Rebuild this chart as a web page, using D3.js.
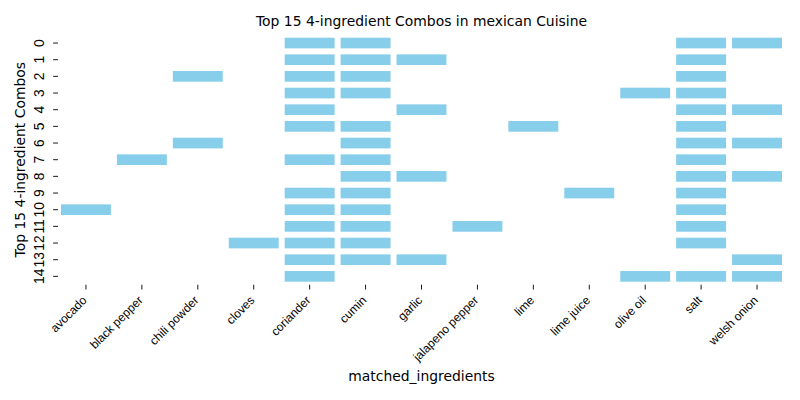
<!DOCTYPE html>
<html>
<head>
<meta charset="utf-8">
<script src="https://cdn.jsdelivr.net/npm/d3@7"></script>
<style>
  html, body { margin: 0; padding: 0; background: #fff; }
  svg { display: block; font-family: "DejaVu Sans", sans-serif; }
</style>
</head>
<body>
<svg id="chart" width="800" height="400"></svg>
<script>
const ingredients = ["avocado", "black pepper", "chili powder", "cloves", "coriander", "cumin",
  "garlic", "jalapeno pepper", "lime", "lime juice", "olive oil", "salt", "welsh onion"];
const comboLabels = ["0","1","2","3","4","5","6","7","8","9","10","11","12","13","14"];
const combos = [
  ["coriander", "cumin", "salt", "welsh onion"],
  ["coriander", "cumin", "garlic", "salt"],
  ["chili powder", "coriander", "cumin", "salt"],
  ["coriander", "cumin", "olive oil", "salt"],
  ["coriander", "garlic", "salt", "welsh onion"],
  ["coriander", "cumin", "lime", "salt"],
  ["chili powder", "cumin", "salt", "welsh onion"],
  ["black pepper", "coriander", "cumin", "salt"],
  ["cumin", "garlic", "salt", "welsh onion"],
  ["coriander", "cumin", "lime juice", "salt"],
  ["avocado", "coriander", "cumin", "salt"],
  ["coriander", "cumin", "jalapeno pepper", "salt"],
  ["cloves", "coriander", "cumin", "salt"],
  ["coriander", "cumin", "garlic", "welsh onion"],
  ["coriander", "olive oil", "salt", "welsh onion"]
];
const titleText = "Top 15 4-ingredient Combos in mexican Cuisine";
const xLabelText = "matched_ingredients";
const yLabelText = "Top 15 4-ingredient Combos";

(function () {
const svg = d3.select("#chart");
const mL = 58, mR = 785, mT = 34.7, mB = 284.7;
const gap = 3;

const x = d3.scaleBand().domain(ingredients).range([mL, mR]).padding(0);
const y = d3.scaleBand().domain(comboLabels).range([mT, mB]).padding(0);

const cells = [];
combos.forEach((c, i) => c.forEach(ing => cells.push({row: comboLabels[i], ing})));

svg.append("g").selectAll("rect").data(cells).join("rect")
  .attr("x", d => x(d.ing) + gap)
  .attr("y", d => y(d.row) + gap)
  .attr("width", x.bandwidth() - 2 * gap)
  .attr("height", y.bandwidth() - 2 * gap)
  .attr("fill", "#87CEEB");

// X axis
const xAxis = svg.append("g")
  .attr("transform", `translate(0,${mB})`)
  .call(d3.axisBottom(x).tickSize(4.86).tickPadding(0));
xAxis.select(".domain").remove();
xAxis.selectAll(".tick line").attr("stroke", "#000").attr("stroke-width", 0.9);
xAxis.selectAll(".tick text")
  .attr("fill", "#000")
  .style("font-size", "12px")
  .attr("text-anchor", "end")
  .attr("dy", null)
  .attr("y", null)
  .attr("transform", `translate(1.6,${301 - mB}) rotate(-45)`);

// Y axis
const yAxis = svg.append("g")
  .attr("transform", `translate(${mL},0)`)
  .call(d3.axisLeft(y).tickSize(4.86).tickPadding(0));
yAxis.select(".domain").remove();
yAxis.selectAll(".tick line").attr("stroke", "#000").attr("stroke-width", 0.9);
yAxis.selectAll(".tick text")
  .attr("fill", "#000")
  .style("font-size", "13.9px")
  .attr("text-anchor", "middle")
  .attr("x", null).attr("dy", null)
  .attr("transform", `translate(${44 - mL},0) rotate(-90)`);

// Title and labels
svg.append("text")
  .attr("x", (mL + mR) / 2).attr("y", 26.4)
  .attr("text-anchor", "middle").style("font-size", "13.9px").attr("fill", "#000")
  .text(titleText);

svg.append("text")
  .attr("x", (mL + mR) / 2).attr("y", 381)
  .attr("text-anchor", "middle").style("font-size", "13.9px").attr("fill", "#000")
  .text(xLabelText);

svg.append("text")
  .attr("transform", `translate(25,${(mT + mB) / 2}) rotate(-90)`)
  .attr("text-anchor", "middle").style("font-size", "13.9px").attr("fill", "#000")
  .text(yLabelText);
})();
</script>
</body>
</html>
